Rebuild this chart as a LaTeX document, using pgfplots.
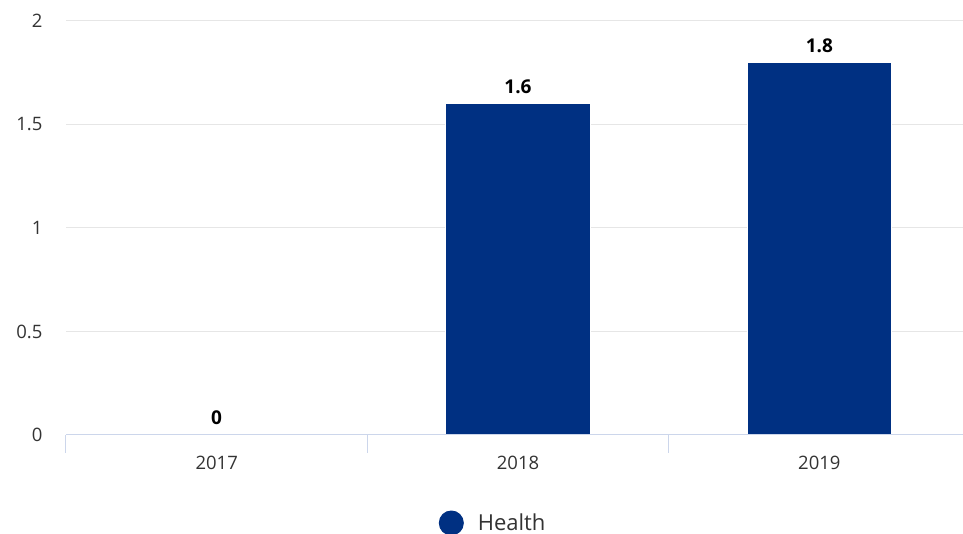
\documentclass[border=0pt]{standalone}
\usepackage{pgfplots}
\pgfplotsset{compat=1.18}
\usepackage{fontspec}
\setmainfont{Open Sans}
\definecolor{barblue}{RGB}{0,48,130}
\definecolor{gridcol}{RGB}{230,230,230}
\definecolor{axiscol}{RGB}{204,214,235}
\definecolor{txt}{RGB}{51,51,51}
\begin{document}
\begin{tikzpicture}
\begin{axis}[
  name=ax,
  scale only axis,
  width=904pt, height=414pt,
  xmin=-0.5, xmax=2.5,
  ymin=0, ymax=2,
  ytick={0,0.5,1,1.5,2},
  xtick={0,1,2},
  xticklabels={2017,2018,2019},
  minor xtick={-0.5,0.5,1.5,2.5},
  xtick pos=bottom, ytick pos=left,
  major tick length=0pt,
  minor tick length=18pt,
  xtick align=outside,
  minor tick style={draw=axiscol, line width=1pt},
  axis line style={draw=none},
  ymajorgrids,
  major grid style={draw=gridcol, line width=1pt},
  /pgf/number format/assume math mode=true,
  tick label style={font=\fontsize{18.5}{22}\selectfont, text=txt},
  yticklabel style={xshift=-20pt},
  xticklabel style={yshift=-18pt},
  ybar, bar width=0.478,
  nodes near coords,
  every node near coord/.append style={font=\fontsize{19}{22}\selectfont\bfseries, text=black, yshift=6pt},
  legend style={at={(rel axis cs:0.4725,-0.2126)}, anchor=center, draw=none, font=\fontsize{22}{26}\selectfont, text=txt},
  legend image code/.code={\fill[barblue] (0pt,0pt) circle (12pt);},
  legend cell align=left,
]
\addplot[fill=barblue, draw=white, line width=1pt] coordinates {(0,0) (1,1.6) (2,1.8)};
\addlegendentry{\hspace{12pt}Health}
\draw[axiscol, line width=1pt] (rel axis cs:0,0) -- (rel axis cs:1,0);
\end{axis}
\pgfresetboundingbox
\useasboundingbox ([shift={(-66pt,-99pt)}]ax.south west) rectangle ([shift={(-7pt,21pt)}]ax.north east);
\end{tikzpicture}
\end{document}
